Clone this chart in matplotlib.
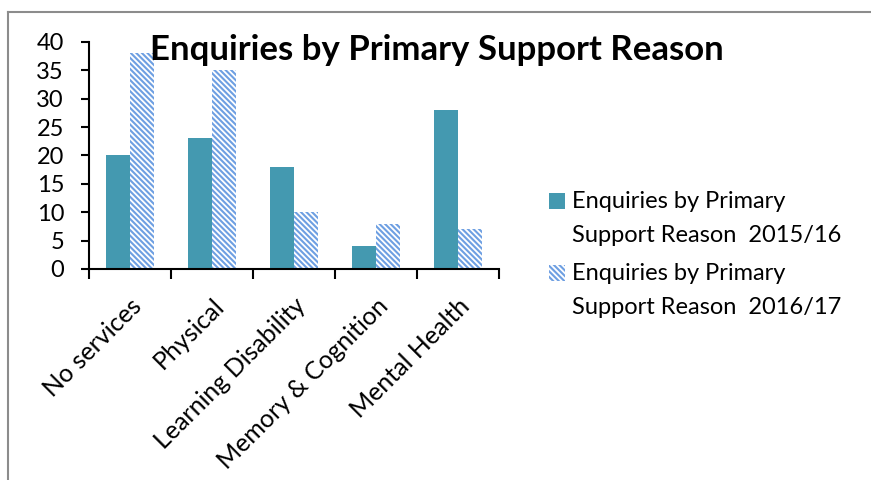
import numpy as np
import matplotlib
matplotlib.use("Agg")
import matplotlib.pyplot as plt
from matplotlib.lines import Line2D
from matplotlib.patches import Rectangle

categories = ["No services", "Physical", "Learning Disability", "Memory & Cognition", "Mental Health"]
series_names = ["Enquiries by Primary\nSupport Reason  2015/16",
                "Enquiries by Primary\nSupport Reason  2016/17"]
values_1516 = [20, 23, 18, 4, 28]
values_1617 = [38, 35, 10, 8, 7]
y_ticks = [0, 5, 10, 15, 20, 25, 30, 35, 40]

plt.rcParams['font.family'] = ['Lato', 'DejaVu Sans']
plt.rcParams['hatch.linewidth'] = 1.5

solid_color = "#4499B0"
hatch_color = "#6E9FE2"
W, H = 871, 480

fig = plt.figure(figsize=(8.71, 4.8), dpi=100)
ax = fig.add_axes([0.1022, 0.4396, 0.4707, 0.4729])

x = np.arange(len(categories))
w = 0.29
ax.bar(x - w / 2, values_1516, width=w, color=solid_color)
ax.bar(x + w / 2, values_1617, width=w, color="white", edgecolor=hatch_color,
       hatch="\\\\\\\\\\\\", linewidth=0)

ax.set_xlim(-0.5, len(categories) - 0.5)
ax.set_ylim(0, 40)
ax.set_yticks(y_ticks)
ax.tick_params(axis='y', labelsize=17, length=6, width=1.5, direction='out', pad=12)
ax.set_xticks(np.arange(len(categories) + 1) - 0.5)
ax.set_xticklabels([])
ax.tick_params(axis='x', length=7, width=1.5, direction='out')
ax.set_xticks(x, minor=True)
ax.set_xticklabels(categories, minor=True, rotation=45, ha='right', rotation_mode='anchor', fontsize=18)
ax.tick_params(axis='x', which='minor', length=0, pad=18)

for s in ['top', 'right']:
    ax.spines[s].set_visible(False)
ax.spines['left'].set_linewidth(1.5)
ax.spines['bottom'].set_linewidth(1.5)

fig.text(0.502, 0.895, "Enquiries by Primary Support Reason", ha='center', va='center',
         fontsize=25, fontweight='bold')

# legend, drawn by hand so the key sits on the first text line
styles = [dict(facecolor=solid_color, linewidth=0),
          dict(facecolor="white", edgecolor=hatch_color, hatch="\\\\\\\\\\\\", linewidth=0)]
entry_baselines = [208, 280]
for name, st, base in zip(series_names, styles, entry_baselines):
    fig.add_artist(Rectangle((549 / W, 1 - (base + 1) / H), 16 / W, 16 / H,
                             transform=fig.transFigure, **st))
    for i, line in enumerate(name.split("\n")):
        fig.text(572 / W, 1 - (base + 34 * i) / H, line, ha='left', va='baseline', fontsize=17)

# outer chart border (gray)
fig.add_artist(Line2D([8 / W, 8 / W], [0, 1 - 12 / H], color="#8C8C8C", lw=1.5))
fig.add_artist(Line2D([8 / W, 1], [1 - 12 / H, 1 - 12 / H], color="#8C8C8C", lw=1.5))

fig.savefig("out.png", dpi=100)
